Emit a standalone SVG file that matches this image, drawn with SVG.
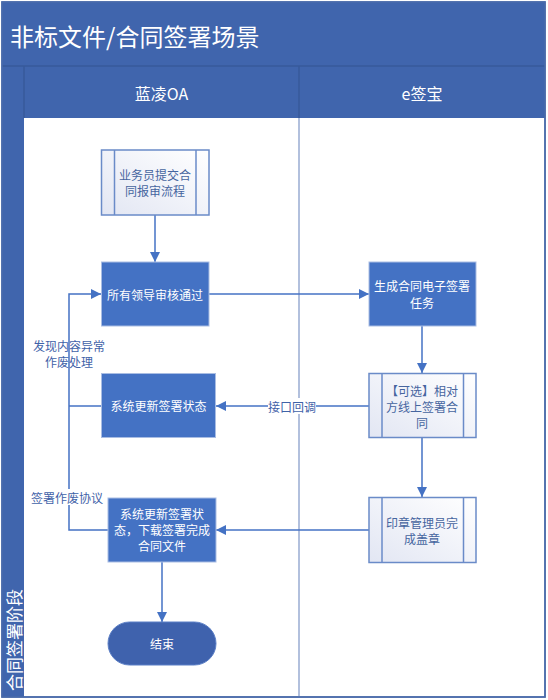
<svg xmlns="http://www.w3.org/2000/svg" width="548" height="700" viewBox="0 0 548 700">
  <style>
    text { font-family: "Noto Sans CJK SC", "Liberation Sans", sans-serif; }
    .hdr { fill: #FFFFFF; font-size: 16px; text-anchor: middle; dominant-baseline: central; }
    .wt { fill: #FFFFFF; font-size: 12px; text-anchor: middle; dominant-baseline: central; }
    .bt { fill: #46659F; font-size: 12px; text-anchor: middle; dominant-baseline: central; }
    .lb { fill: #3F62A8; font-size: 12px; text-anchor: middle; dominant-baseline: central; }
    .proc { fill: #4472C4; stroke: #A9BDE3; stroke-width: 1; }
    .sub { fill: url(#subGrad); stroke: #6A8BC8; stroke-width: 1.5; }
    .subl { stroke: #6A8BC8; stroke-width: 1.5; fill: none; }
    .conn { stroke: #4472C4; stroke-width: 1.5; fill: none; }
    .band { fill: #4065AD; }
    .sep { stroke: #375A9B; stroke-width: 1.5; fill: none; }
  </style>
  <defs>
    <linearGradient id="subGrad" x1="0" y1="1" x2="1" y2="0">
      <stop offset="0" stop-color="#E2E6F3"/>
      <stop offset="1" stop-color="#FFFFFF"/>
    </linearGradient>
    <marker id="arr" markerUnits="userSpaceOnUse" markerWidth="10" markerHeight="10" refX="10" refY="5" orient="auto">
      <path d="M0,0 L10,5 L0,10 z" fill="#4472C4"/>
    </marker>
  </defs>

  <g id="pool">
    <rect x="2" y="2" width="543" height="695" fill="#FFFFFF" stroke="#4A6BAA" stroke-width="1.5"/>
    <rect class="band" x="2" y="2" width="543" height="64"/>
    <rect class="band" x="2" y="66" width="543" height="52"/>
    <rect class="band" x="2" y="66" width="22" height="631"/>
    <line class="sep" x1="2" y1="66" x2="545" y2="66"/>
    <line class="sep" x1="24" y1="66" x2="24" y2="118"/>
    <line class="sep" x1="299" y1="66" x2="299" y2="118"/>
    <line x1="299" y1="118" x2="299" y2="697" stroke="#7F96C6" stroke-width="1.2"/>
    <rect x="2" y="2" width="543" height="695" fill="none" stroke="#4A6BAA" stroke-width="1.5"/>
    <text x="10" y="35" fill="#FFFFFF" font-size="24" dominant-baseline="central">非标文件/合同签署场景</text>
    <text class="hdr" x="161.5" y="93">蓝凌OA</text>
    <text class="hdr" x="422" y="93">e签宝</text>
    <text x="13" y="640" fill="#FFFFFF" font-size="17" text-anchor="middle" dominant-baseline="central" transform="rotate(-90 13 640)">合同签署阶段</text>
  </g>

  <g id="connectors">
    <line class="conn" x1="155" y1="215" x2="155" y2="262" marker-end="url(#arr)"/>
    <line class="conn" x1="209" y1="294" x2="369" y2="294" marker-end="url(#arr)"/>
    <line class="conn" x1="422" y1="326" x2="422" y2="373" marker-end="url(#arr)"/>
    <line class="conn" x1="422" y1="438" x2="422" y2="497" marker-end="url(#arr)"/>
    <line class="conn" x1="369" y1="406" x2="216" y2="406" marker-end="url(#arr)"/>
    <line class="conn" x1="369" y1="530" x2="216" y2="530" marker-end="url(#arr)"/>
    <polyline class="conn" points="108,530 69,530 69,294 101,294" marker-end="url(#arr)"/>
    <line class="conn" x1="108" y1="406" x2="69" y2="406"/>
    <line class="conn" x1="162" y1="562" x2="162" y2="622" marker-end="url(#arr)"/>
    <rect x="268" y="398" width="48" height="16" fill="#FFFFFF"/>
    <text class="lb" x="292" y="406">接口回调</text>
    <text class="lb" x="69" y="345">发现内容异常</text>
    <text class="lb" x="69" y="361.5">作废处理</text>
    <rect x="31" y="489" width="72" height="16" fill="#FFFFFF"/>
    <text class="lb" x="67" y="497">签署作废协议</text>
  </g>

  <g id="n1">
    <rect class="sub" x="101.5" y="150" width="107.5" height="65"/>
    <line class="subl" x1="114.5" y1="150" x2="114.5" y2="215"/>
    <line class="subl" x1="196" y1="150" x2="196" y2="215"/>
    <text class="bt" x="155" y="174">业务员提交合</text>
    <text class="bt" x="155" y="190.5">同报审流程</text>
  </g>

  <g id="n2">
    <rect class="proc" x="101.5" y="262" width="107.5" height="64"/>
    <text class="wt" x="155" y="294">所有领导审核通过</text>
  </g>

  <g id="n3">
    <rect class="proc" x="369" y="262" width="107" height="64"/>
    <text class="wt" x="422" y="285.5">生成合同电子签署</text>
    <text class="wt" x="422" y="302">任务</text>
  </g>

  <g id="n4">
    <rect class="sub" x="369" y="373.5" width="107" height="64"/>
    <line class="subl" x1="382" y1="373.5" x2="382" y2="437.5"/>
    <line class="subl" x1="463.5" y1="373.5" x2="463.5" y2="437.5"/>
    <text class="bt" x="422" y="390">【可选】相对</text>
    <text class="bt" x="422" y="406">方线上签署合</text>
    <text class="bt" x="422" y="422">同</text>
  </g>

  <g id="n5">
    <rect class="sub" x="369" y="497.5" width="107" height="65"/>
    <line class="subl" x1="382" y1="497.5" x2="382" y2="562.5"/>
    <line class="subl" x1="463.5" y1="497.5" x2="463.5" y2="562.5"/>
    <text class="bt" x="422" y="522">印章管理员完</text>
    <text class="bt" x="422" y="538.5">成盖章</text>
  </g>

  <g id="n6">
    <rect class="proc" x="101.5" y="373.5" width="114" height="64"/>
    <text class="wt" x="158.5" y="405.5">系统更新签署状态</text>
  </g>

  <g id="n7">
    <rect class="proc" x="108" y="498" width="108" height="64"/>
    <text class="wt" x="162" y="513.5">系统更新签署状</text>
    <text class="wt" x="162" y="529.5">态，下载签署完成</text>
    <text class="wt" x="162" y="545">合同文件</text>
  </g>

  <g id="end">
    <rect x="108" y="622" width="108" height="43" rx="21.5" ry="21.5" fill="#3F62AD" stroke="#5B7FC6" stroke-width="1"/>
    <text class="wt" x="162" y="643.5">结束</text>
  </g>
</svg>
